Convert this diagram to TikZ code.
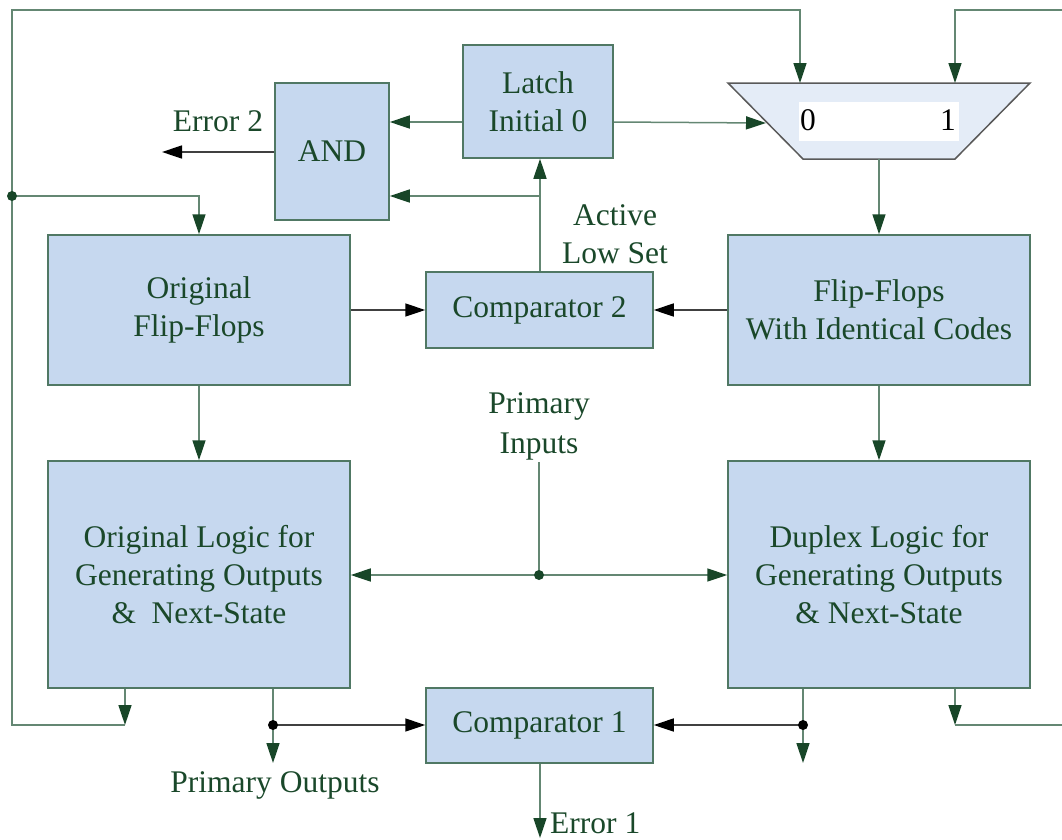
\documentclass[tikz,border=0pt]{standalone}
\usepackage{fontspec}
\setmainfont{Liberation Serif}
\usetikzlibrary{arrows.meta}
\definecolor{boxfill}{RGB}{198,216,239}
\definecolor{boxline}{RGB}{80,120,100}
\definecolor{txt}{RGB}{26,72,42}
\definecolor{ln}{RGB}{100,135,115}
\definecolor{tipg}{RGB}{24,70,40}
\definecolor{muxfill}{RGB}{228,236,247}
\newcommand\mydiafont{\fontsize{31.5}{38}\selectfont}
\begin{document}
\begin{tikzpicture}[x=1pt,y=-1pt,
  blk/.style={draw=boxline, fill=boxfill, line width=1.5pt, text=txt, align=center, font=\mydiafont, inner sep=0pt},
  garr/.style={draw=ln, line width=1.5pt, -{Triangle[length=20pt,width=13pt,color=tipg]}},
  karr/.style={draw=black!75, line width=1.5pt, -{Triangle[length=20pt,width=13pt,color=black]}},
  gline/.style={draw=ln, line width=1.5pt},
  lbl/.style={text=txt, font=\mydiafont, anchor=base, inner sep=0pt}]
\useasboundingbox (0,0) rectangle (1062,839);

% blocks
\node[blk, minimum width=114pt, minimum height=137pt] (and) at (332,151.5) {AND};
\node[blk, minimum width=150pt, minimum height=113pt] (latch) at (538,101.5) {Latch\\Initial 0};
\node[blk, minimum width=302pt, minimum height=150pt] (origff) at (199,310) {Original\\Flip-Flops};
\node[blk, minimum width=227pt, minimum height=76pt] (comp2) at (539.5,310) {Comparator 2};
\node[blk, minimum width=302pt, minimum height=150pt] (ffid) at (879,310) {Flip-Flops\\With Identical Codes};
\node[blk, minimum width=302pt, minimum height=227pt] (origlogic) at (199,574.5) {Original Logic for\\Generating Outputs\\\&\ \ Next-State};
\node[blk, minimum width=302pt, minimum height=227pt] (duplex) at (879,574.5) {Duplex Logic for\\Generating Outputs\\\& Next-State};
\node[blk, minimum width=227pt, minimum height=75pt] (comp1) at (539.5,725.5) {Comparator 1};

% mux
\coordinate (mtl) at (728,83);
\coordinate (mtr) at (1030,83);
\coordinate (mbr) at (955,159);
\coordinate (mbl) at (803,159);
\coordinate (mux0) at (800,83);
\coordinate (mux1) at (955,83);
\coordinate (muxout) at (879,159);
\coordinate (muxin) at (766,123);
\draw[fill=muxfill, draw=black!65, line width=1.5pt] (mtl) -- (mtr) -- (mbr) -- (mbl) -- cycle;
\node[fill=white, minimum width=160pt, minimum height=39pt, inner sep=0pt] (muxw) at (879,121.5) {};
\node[anchor=base west, inner sep=0pt, font=\mydiafont] (m0) at (800,130) {0};
\node[anchor=base east, inner sep=0pt, font=\mydiafont] (m1) at (956,130) {1};

% coordinates
\coordinate (lb) at (125,725);
\coordinate (lc) at (12,725);
\coordinate (ltop) at (12,10);
\coordinate (ldot) at (12,196);
\coordinate (rb) at (955,725);
\coordinate (rr) at (1062,725);
\coordinate (rt) at (1062,10);
\coordinate (cb) at (540,196);
\coordinate (e2) at (162,152);
\coordinate (pi) at (539,575);
\coordinate (pitop) at (539,462);
\coordinate (po) at (273,725);
\coordinate (poend) at (273,763);
\coordinate (dout) at (803,725);
\coordinate (doutend) at (803,763);
\coordinate (e1) at (540,838);

% left feedback
\draw[garr] (origlogic.south -| lb) -- (lb);
\draw[garr] (lb) -- (lc) -- (ltop) -- (ltop -| mux0) -- (mux0);
\draw[garr] (ldot) -| (origff.north);
\fill[tipg] (ldot) circle (5pt);

% right feedback
\draw[garr] (duplex.south -| rb) -- (rb);
\draw[gline] (rb) -- (rr);
\draw[garr] (rt) -- (rt -| mux1) -- (mux1);

% latch / and / mux
\draw[garr] (latch.west |- 0,122) -- (and.east |- 0,122);
\draw[garr] (latch.east |- 0,122) -- (muxin);
\draw[garr] (muxout) -- (ffid.north);
\draw[garr] (comp2.north -| cb) -- (latch.south -| cb);
\draw[garr] (cb) -- (and.east |- cb);
\draw[karr] (and.west |- e2) -- (e2);

% comparator 2
\draw[karr] (origff.east) -- (comp2.west);
\draw[karr] (ffid.west) -- (comp2.east);

% ff to logic
\draw[garr] (origff.south) -- (origlogic.north);
\draw[garr] (ffid.south) -- (duplex.north);

% primary inputs
\draw[gline] (pitop) -- (pi);
\draw[garr] (pi) -- (origlogic.east |- pi);
\draw[garr] (pi) -- (duplex.west |- pi);
\fill[tipg] (pi) circle (5pt);

% outputs and comparator 1
\draw[gline] (origlogic.south -| po) -- (po);
\draw[garr] (po) -- (poend);
\draw[karr] (po) -- (comp1.west |- po);
\fill[black] (po) circle (5pt);
\draw[gline] (duplex.south -| dout) -- (dout);
\draw[garr] (dout) -- (doutend);
\draw[karr] (dout) -- (comp1.east |- dout);
\fill[black] (dout) circle (5pt);
\draw[garr] (comp1.south -| e1) -- (e1);

% labels
\node[lbl] (err2) at (218,131) {Error 2};
\node[lbl] (als1) at (615,225) {Active};
\node[lbl] (als2) at (615,263) {Low Set};
\node[lbl] (pin1) at (539,413) {Primary};
\node[lbl] (pin2) at (539,453) {Inputs};
\node[lbl] (pout) at (275,792) {Primary Outputs};
\node[lbl, anchor=base west] (err1) at (550,833) {Error 1};
\end{tikzpicture}
\end{document}
